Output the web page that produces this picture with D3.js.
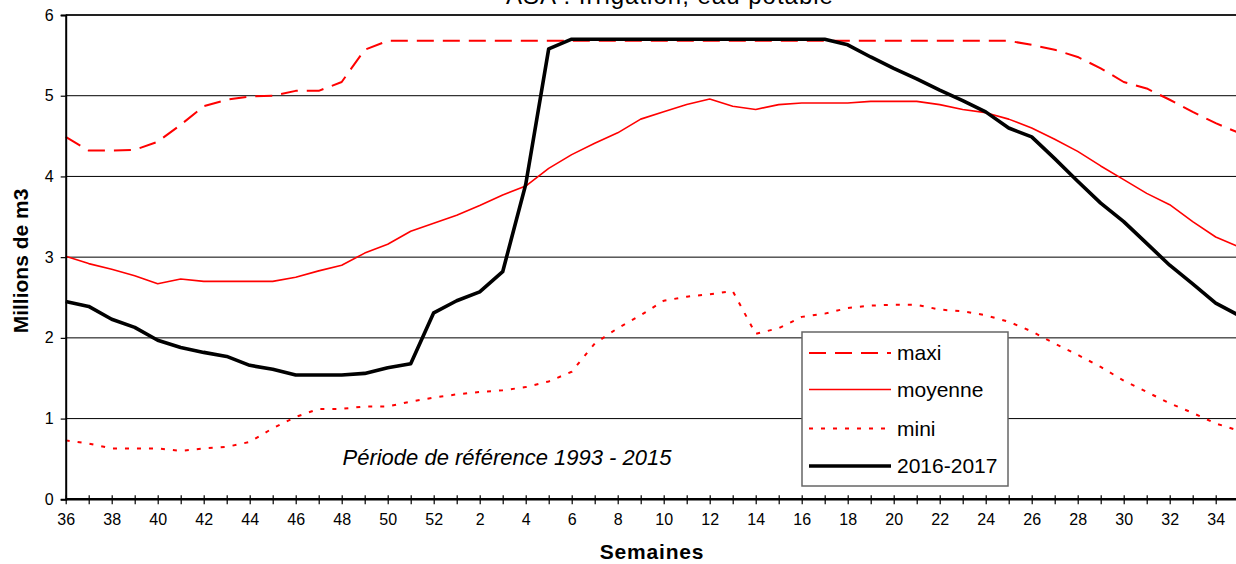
<!DOCTYPE html>
<html>
<head>
<meta charset="utf-8">
<script src="https://cdn.jsdelivr.net/npm/d3@7"></script>
<style>
  html, body { margin: 0; padding: 0; background: #fff; }
  svg { display: block; font-family: Arial, "Liberation Sans", sans-serif; }
</style>
</head>
<body>
<svg id="chart" width="1236" height="564"></svg>
<script>
// Weeks of the hydrological year (week 36 to week 35)
const weeks = [36,37,38,39,40,41,42,43,44,45,46,47,48,49,50,51,52,
  1,2,3,4,5,6,7,8,9,10,11,12,13,14,15,16,17,18,19,20,21,22,23,24,25,26,27,28,29,30,31,32,33,34,35];

// Reference period 1993 - 2015 envelope (millions de m3)
const maxi = [4.49,4.32,4.32,4.33,4.43,4.64,4.87,4.95,4.99,5.00,5.06,5.06,5.17,5.57,
  5.68,5.68,5.68,5.68,5.68,5.68,5.68,5.68,5.68,5.68,5.68,5.68,5.68,5.68,
  5.68,5.68,5.68,5.68,5.68,5.68,5.68,5.68,5.68,5.68,5.68,5.68,5.68,5.68,
  5.63,5.57,5.48,5.34,5.17,5.09,4.95,4.80,4.66,4.54];

const moyenne = [3.01,2.92,2.85,2.77,2.67,2.73,2.70,2.70,2.70,2.70,2.75,2.83,2.90,3.05,3.16,3.32,
  3.42,3.52,3.64,3.77,3.88,4.10,4.27,4.41,4.54,4.71,4.80,4.89,4.96,4.87,4.83,4.89,4.91,4.91,
  4.91,4.93,4.93,4.93,4.89,4.83,4.79,4.71,4.60,4.46,4.31,4.13,3.96,3.79,3.65,3.44,3.25,3.13];

const mini = [0.73,0.69,0.63,0.63,0.63,0.60,0.63,0.65,0.71,0.88,1.02,1.12,1.12,1.15,1.15,1.21,
  1.26,1.30,1.33,1.35,1.39,1.46,1.58,1.93,2.12,2.28,2.46,2.51,2.54,2.58,2.05,2.12,2.26,2.30,
  2.37,2.40,2.41,2.41,2.35,2.33,2.28,2.20,2.08,1.93,1.79,1.64,1.47,1.33,1.19,1.07,0.94,0.85];

// Current season
const saison = [2.45,2.39,2.23,2.13,1.97,1.88,1.82,1.77,1.66,1.61,1.54,1.54,1.54,1.56,1.63,1.68,
  2.31,2.46,2.57,2.82,3.90,5.58,
  5.70,5.70,5.70,5.70,5.70,5.70,5.70,5.70,5.70,5.70,5.70,5.70,
  5.63,5.48,5.34,5.21,5.07,4.94,4.80,4.60,4.49,4.22,3.94,3.67,3.44,3.17,2.90,2.67,2.43,2.28];

const yTicks = [0,1,2,3,4,5,6];

const series = [
  { name: "maxi",      values: maxi,    color: "#ff0000", width: 2,   dash: "17,9" },
  { name: "moyenne",   values: moyenne, color: "#ff0000", width: 1.6, dash: null },
  { name: "mini",      values: mini,    color: "#ff0000", width: 2,   dash: "4,8" },
  { name: "2016-2017", values: saison,  color: "#000000", width: 3.6, dash: null }
];

const svg = d3.select("#chart");
const plotLeft = 65.7, plotTop = 15, plotBottom = 499.3;
const step = 23;

const x = d3.scalePoint()
  .domain(d3.range(weeks.length))
  .range([plotLeft, plotLeft + step * (weeks.length - 1)]);

const y = d3.scaleLinear().domain([0, 6]).range([plotBottom, plotTop]);

// Horizontal grid lines
svg.append("g")
  .selectAll("line")
  .data(yTicks.filter(t => t > 0 && t < 6))
  .join("line")
  .attr("x1", plotLeft).attr("x2", 1236)
  .attr("y1", d => y(d)).attr("y2", d => y(d))
  .attr("stroke", "#000").attr("stroke-width", 1);

// Top border of the plot area
svg.append("line")
  .attr("x1", plotLeft).attr("x2", 1236)
  .attr("y1", y(6)).attr("y2", y(6))
  .attr("stroke", "#222").attr("stroke-width", 2);

// Title, running off the top of the frame
svg.append("text")
  .attr("x", 670).attr("y", 3.5)
  .attr("text-anchor", "middle")
  .attr("font-size", 24)
  .attr("letter-spacing", 1)
  .text("ASA : Irrigation, eau potable");

// Note on reference period
svg.append("text")
  .attr("x", 507).attr("y", 465)
  .attr("text-anchor", "middle")
  .attr("font-size", 22)
  .attr("font-style", "italic")
  .text("Période de référence 1993 - 2015");

// Series lines
const line = d3.line()
  .x((d, i) => x(i))
  .y(d => y(d));

svg.append("g")
  .selectAll("path")
  .data(series)
  .join("path")
  .attr("d", d => line(d.values))
  .attr("fill", "none")
  .attr("stroke", d => d.color)
  .attr("stroke-width", d => d.width)
  .attr("stroke-dasharray", d => d.dash)
  .attr("stroke-linejoin", "round");

// Y axis
const yAxis = svg.append("g")
  .attr("transform", `translate(${plotLeft},0)`)
  .call(d3.axisLeft(y).tickValues(yTicks).tickSize(5).tickPadding(7).tickFormat(d3.format("d")));
yAxis.select(".domain").attr("stroke", "#000").attr("stroke-width", 2);
yAxis.selectAll(".tick line").attr("stroke", "#000").attr("stroke-width", 1.2);
yAxis.selectAll(".tick text").attr("font-size", 16).attr("fill", "#000")
  .attr("font-family", "Arial, 'Liberation Sans', sans-serif");

// X axis: a tick every week, a label every other week
const xAxis = svg.append("g")
  .attr("transform", `translate(0,${plotBottom})`)
  .call(d3.axisBottom(x)
    .tickSize(5)
    .tickPadding(9)
    .tickFormat(i => (i % 2 === 0 ? String(weeks[i]) : "")));
xAxis.select(".domain").attr("d", `M${plotLeft},0H1236`).attr("stroke", "#000").attr("stroke-width", 2.6);
xAxis.selectAll(".tick line").attr("y1", -4).attr("y2", 5).attr("stroke", "#000").attr("stroke-width", 1.2);
xAxis.selectAll(".tick text").attr("font-size", 16).attr("fill", "#000")
  .attr("font-family", "Arial, 'Liberation Sans', sans-serif");

// Axis titles
svg.append("text")
  .attr("x", 652).attr("y", 559)
  .attr("text-anchor", "middle")
  .attr("font-size", 21)
  .attr("font-weight", "bold")
  .attr("letter-spacing", 0.8)
  .text("Semaines");

svg.append("text")
  .attr("transform", "translate(28,261) rotate(-90)")
  .attr("text-anchor", "middle")
  .attr("font-size", 21)
  .attr("font-weight", "bold")
  .text("Millions de m3");

// Legend
const legend = svg.append("g").attr("transform", "translate(802,332)");
legend.append("rect")
  .attr("width", 206).attr("height", 154)
  .attr("fill", "#fff")
  .attr("stroke", "#666").attr("stroke-width", 1.5);

const rowY = [21, 57.5, 96.5, 134];
const item = legend.selectAll("g.item")
  .data(series)
  .join("g")
  .attr("class", "item")
  .attr("transform", (d, i) => `translate(0,${rowY[i]})`);
item.append("line")
  .attr("x1", 7).attr("x2", 89)
  .attr("stroke", d => d.color)
  .attr("stroke-width", d => d.width)
  .attr("stroke-dasharray", d => d.dash);
item.append("text")
  .attr("x", 95).attr("dy", "0.35em")
  .attr("font-size", 21)
  .text(d => d.name);
</script>
</body>
</html>
